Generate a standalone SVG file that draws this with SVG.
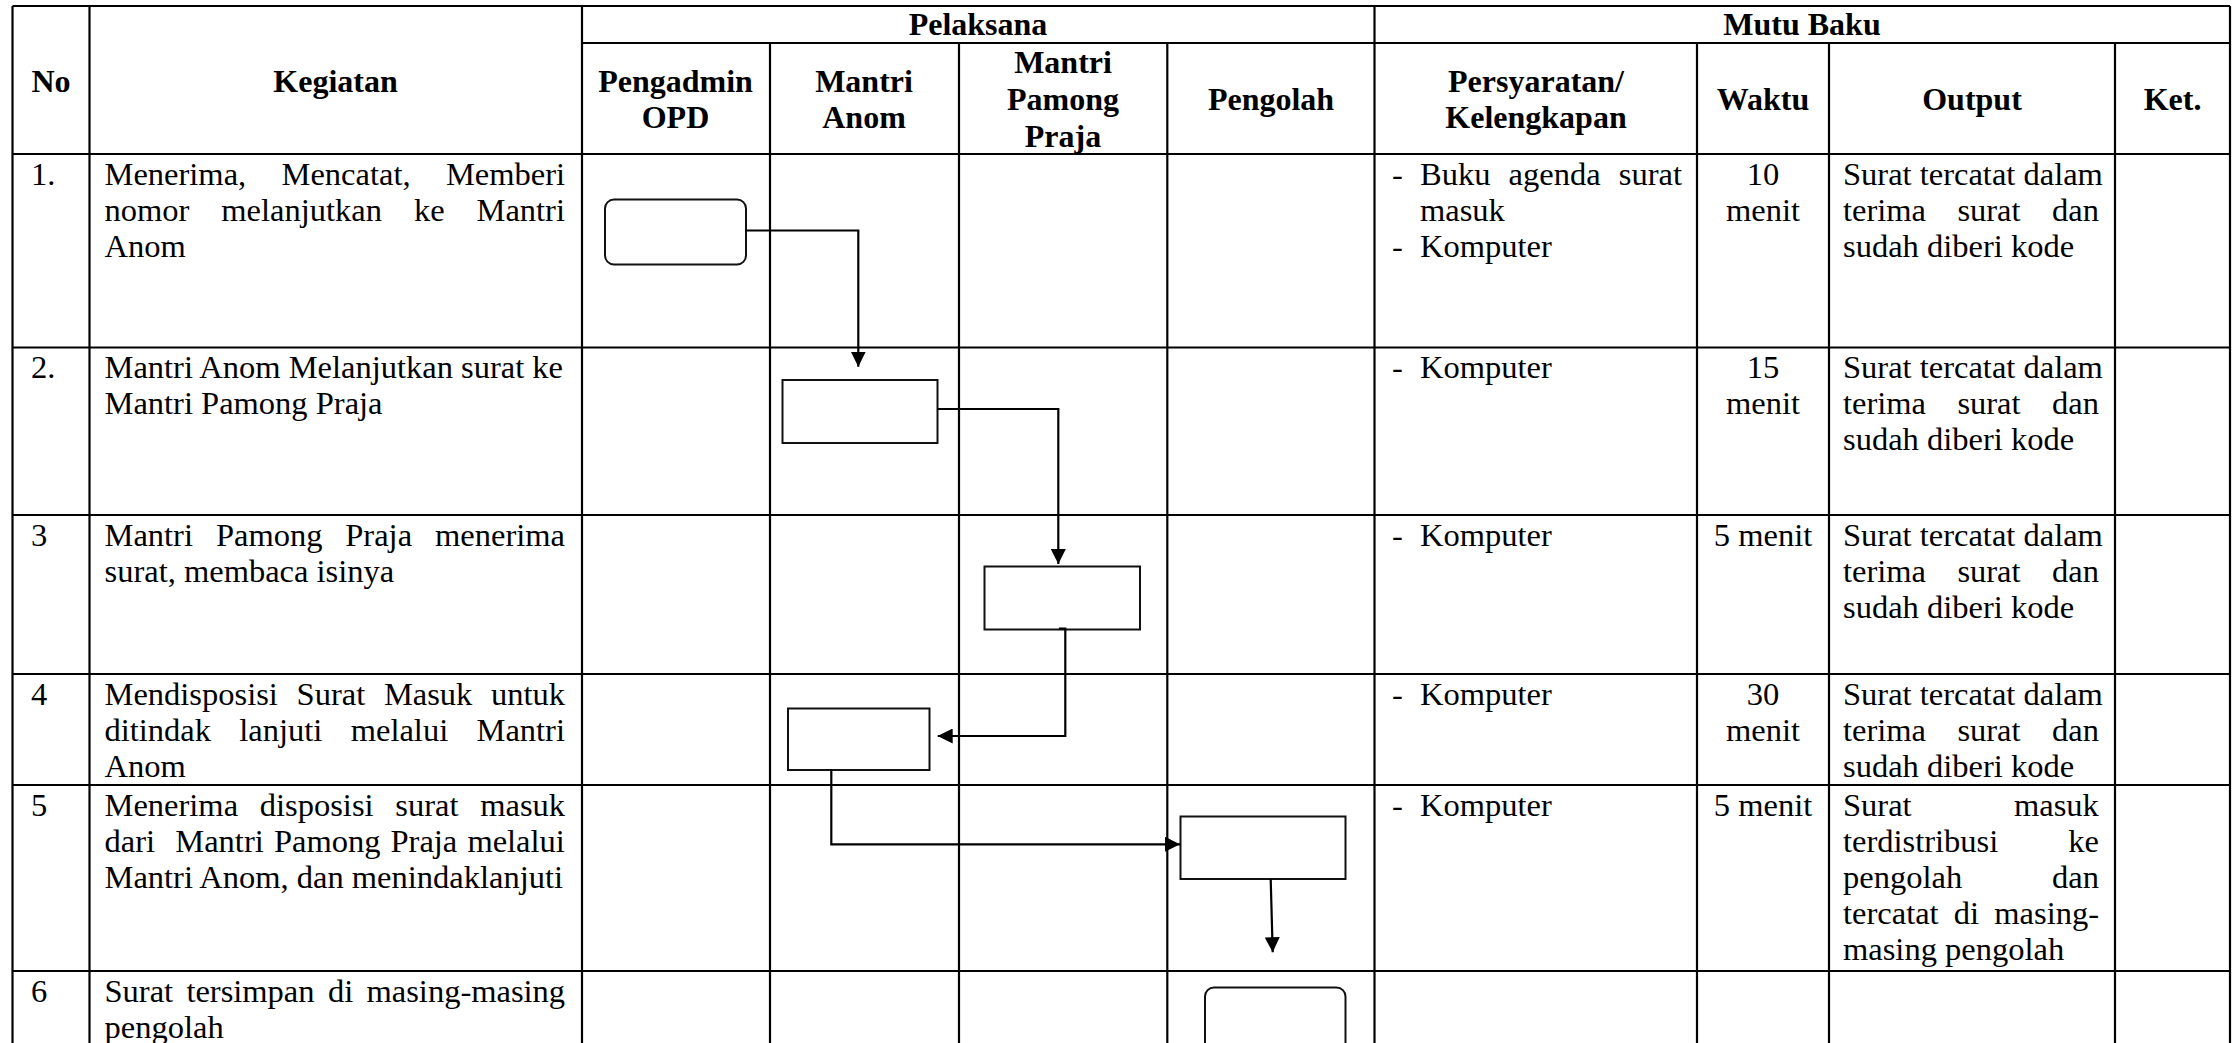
<svg xmlns="http://www.w3.org/2000/svg" width="2239" height="1043" viewBox="0 0 2239 1043">
  <defs>
    <style>
      .grid { stroke: #000; stroke-width: 2.2; fill: none; }
      .node { fill: #fff; stroke: #111; stroke-width: 2; }
      .conn { stroke: #000; stroke-width: 2.2; fill: none; marker-end: url(#arrow); }
      .t { font-family: "Liberation Serif", "Times New Roman", serif; font-size: 32.5px; fill: #000; }
      .h { font-family: "Liberation Serif", "Times New Roman", serif; font-size: 32px; font-weight: bold; fill: #000; text-anchor: middle; }
      .c { text-anchor: middle; }
    </style>
    <marker id="arrow" viewBox="0 0 15 15" refX="15" refY="7.5" markerWidth="15" markerHeight="15" markerUnits="userSpaceOnUse" orient="auto">
      <path d="M0,0 L15,7.5 L0,15 z" fill="#000"/>
    </marker>
  </defs>

  <rect x="0" y="0" width="2239" height="1043" fill="#fff"/>

  <!-- table grid -->
  <g id="table-grid" class="grid">
    <line x1="12.5" y1="6" x2="2230" y2="6"/>
    <line x1="582" y1="43" x2="2230" y2="43"/>
    <line x1="12.5" y1="154" x2="2230" y2="154"/>
    <line x1="12.5" y1="347.5" x2="2230" y2="347.5"/>
    <line x1="12.5" y1="515" x2="2230" y2="515"/>
    <line x1="12.5" y1="674" x2="2230" y2="674"/>
    <line x1="12.5" y1="785" x2="2230" y2="785"/>
    <line x1="12.5" y1="971" x2="2230" y2="971"/>

    <line x1="12.5" y1="6" x2="12.5" y2="1043"/>
    <line x1="89.5" y1="6" x2="89.5" y2="1043"/>
    <line x1="582" y1="6" x2="582" y2="1043"/>
    <line x1="770" y1="43" x2="770" y2="1043"/>
    <line x1="959" y1="43" x2="959" y2="1043"/>
    <line x1="1167.3" y1="43" x2="1167.3" y2="1043"/>
    <line x1="1374.5" y1="6" x2="1374.5" y2="1043"/>
    <line x1="1697" y1="43" x2="1697" y2="1043"/>
    <line x1="1829" y1="43" x2="1829" y2="1043"/>
    <line x1="2115" y1="43" x2="2115" y2="1043"/>
    <line x1="2230" y1="6" x2="2230" y2="1043"/>
  </g>

  <!-- header -->
  <g id="header">
    <text class="h" x="51" y="92">No</text>
    <text class="h" x="335.5" y="92">Kegiatan</text>
    <text class="h" x="978" y="35">Pelaksana</text>
    <text class="h" x="1802" y="35">Mutu Baku</text>
    <text class="h" x="675.5" y="92">Pengadmin</text>
    <text class="h" x="675.5" y="128">OPD</text>
    <text class="h" x="864" y="92">Mantri</text>
    <text class="h" x="864" y="128">Anom</text>
    <text class="h" x="1063" y="73">Mantri</text>
    <text class="h" x="1063" y="110">Pamong</text>
    <text class="h" x="1063" y="147">Praja</text>
    <text class="h" x="1271" y="110">Pengolah</text>
    <text class="h" x="1536" y="92">Persyaratan/</text>
    <text class="h" x="1536" y="128">Kelengkapan</text>
    <text class="h" x="1763" y="110">Waktu</text>
    <text class="h" x="1972" y="110">Output</text>
    <text class="h" x="2172.5" y="110">Ket.</text>
  </g>

  <!-- No column -->
  <g id="col-no" class="t">
    <text x="31" y="185">1.</text>
    <text x="31" y="378">2.</text>
    <text x="31" y="546">3</text>
    <text x="31" y="705">4</text>
    <text x="31" y="816">5</text>
    <text x="31" y="1002">6</text>
  </g>

  <!-- Kegiatan column -->
  <g id="col-kegiatan" class="t">
    <text y="185"><tspan x="104.5">Menerima,</tspan><tspan x="281.5">Mencatat,</tspan><tspan x="445.9">Memberi</tspan></text>
    <text y="221"><tspan x="104.5">nomor</tspan><tspan x="221.3">melanjutkan</tspan><tspan x="413.9">ke</tspan><tspan x="476.5">Mantri</tspan></text>
    <text x="104.5" y="257">Anom</text>

    <text x="104.5" y="378">Mantri Anom Melanjutkan surat ke</text>
    <text x="104.5" y="414">Mantri Pamong Praja</text>

    <text y="546"><tspan x="104.5">Mantri</tspan><tspan x="215.9">Pamong</tspan><tspan x="345.3">Praja</tspan><tspan x="435">menerima</tspan></text>
    <text x="104.5" y="582">surat, membaca isinya</text>

    <text y="705"><tspan x="104.5">Mendisposisi</tspan><tspan x="296.6">Surat</tspan><tspan x="383.9">Masuk</tspan><tspan x="491.1">untuk</tspan></text>
    <text y="741"><tspan x="104.5">ditindak</tspan><tspan x="239.3">lanjuti</tspan><tspan x="350.7">melalui</tspan><tspan x="476.5">Mantri</tspan></text>
    <text x="104.5" y="777">Anom</text>

    <text y="816"><tspan x="104.5">Menerima</tspan><tspan x="259.8">disposisi</tspan><tspan x="395.3">surat</tspan><tspan x="480.2">masuk</tspan></text>
    <text y="852"><tspan x="104.5">dari</tspan><tspan x="175.3">Mantri</tspan><tspan x="273.9">Pamong</tspan><tspan x="390.5">Praja</tspan><tspan x="467.4">melalui</tspan></text>
    <text x="104.5" y="888">Mantri Anom, dan menindaklanjuti</text>

    <text y="1002"><tspan x="104.5">Surat</tspan><tspan x="186.4">tersimpan</tspan><tspan x="327.9">di</tspan><tspan x="366.5">masing-masing</tspan></text>
    <text x="104.5" y="1038">pengolah</text>
  </g>

  <!-- Persyaratan / Kelengkapan column -->
  <g id="col-persyaratan" class="t">
    <text x="1392" y="185">-</text>
    <text y="185"><tspan x="1420">Buku</tspan><tspan x="1508.6">agenda</tspan><tspan x="1618.8">surat</tspan></text>
    <text x="1420" y="221">masuk</text>
    <text x="1392" y="257">-</text>
    <text x="1420" y="257">Komputer</text>

    <text x="1392" y="378">-</text>
    <text x="1420" y="378">Komputer</text>
    <text x="1392" y="546">-</text>
    <text x="1420" y="546">Komputer</text>
    <text x="1392" y="705">-</text>
    <text x="1420" y="705">Komputer</text>
    <text x="1392" y="816">-</text>
    <text x="1420" y="816">Komputer</text>
  </g>

  <!-- Waktu column -->
  <g id="col-waktu" class="t c">
    <text x="1763" y="185">10</text>
    <text x="1763" y="221">menit</text>
    <text x="1763" y="378">15</text>
    <text x="1763" y="414">menit</text>
    <text x="1763" y="546">5 menit</text>
    <text x="1763" y="705">30</text>
    <text x="1763" y="741">menit</text>
    <text x="1763" y="816">5 menit</text>
  </g>

  <!-- Output column -->
  <g id="col-output" class="t">
    <text x="1843" y="185">Surat tercatat dalam</text>
    <text y="221"><tspan x="1843">terima</tspan><tspan x="1957.4">surat</tspan><tspan x="2052">dan</tspan></text>
    <text x="1843" y="257">sudah diberi kode</text>

    <text x="1843" y="378">Surat tercatat dalam</text>
    <text y="414"><tspan x="1843">terima</tspan><tspan x="1957.4">surat</tspan><tspan x="2052">dan</tspan></text>
    <text x="1843" y="450">sudah diberi kode</text>

    <text x="1843" y="546">Surat tercatat dalam</text>
    <text y="582"><tspan x="1843">terima</tspan><tspan x="1957.4">surat</tspan><tspan x="2052">dan</tspan></text>
    <text x="1843" y="618">sudah diberi kode</text>

    <text x="1843" y="705">Surat tercatat dalam</text>
    <text y="741"><tspan x="1843">terima</tspan><tspan x="1957.4">surat</tspan><tspan x="2052">dan</tspan></text>
    <text x="1843" y="777">sudah diberi kode</text>

    <text y="816"><tspan x="1843">Surat</tspan><tspan x="2014">masuk</tspan></text>
    <text y="852"><tspan x="1843">terdistribusi</tspan><tspan x="2068.3">ke</tspan></text>
    <text y="888"><tspan x="1843">pengolah</tspan><tspan x="2052.1">dan</tspan></text>
    <text y="924"><tspan x="1843">tercatat</tspan><tspan x="1953.8">di</tspan><tspan x="1994.3">masing-</tspan></text>
    <text x="1843" y="960">masing pengolah</text>
  </g>

  <!-- flow nodes -->
  <g id="node-start">
    <rect class="node" x="605" y="199.5" width="141" height="65" rx="9" ry="9"/>
  </g>
  <g id="node-anom-forward">
    <rect class="node" x="782.5" y="380" width="155" height="63"/>
  </g>
  <g id="node-pamong-read">
    <rect class="node" x="984.5" y="566.5" width="155.5" height="63"/>
  </g>
  <g id="node-anom-disposition">
    <rect class="node" x="788" y="708.5" width="141.5" height="61.5"/>
  </g>
  <g id="node-pengolah-process">
    <rect class="node" x="1180.5" y="816.5" width="165" height="62.5"/>
  </g>
  <g id="node-end">
    <rect class="node" x="1205" y="987.5" width="140.5" height="90" rx="9" ry="9"/>
  </g>

  <!-- connectors -->
  <g id="connectors">
    <path class="conn" d="M745.7,230.5 H858.3 V366.7"/>
    <path class="conn" d="M937.5,409 H1058.3 V564"/>
    <path class="conn" d="M1059,628.5 H1065.3 V736 H937.7"/>
    <path class="conn" d="M830,770 H831.3 V844.3 H1180"/>
    <path class="conn" d="M1270.7,879 L1272.7,952.3"/>
  </g>
</svg>
